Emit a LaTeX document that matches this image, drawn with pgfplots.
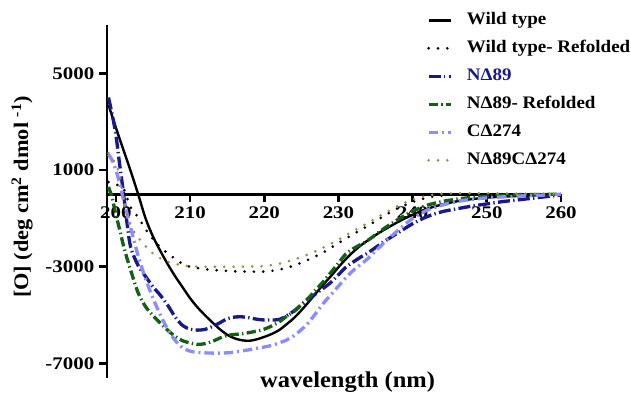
\documentclass[border=0pt]{standalone}
\usepackage{fontspec}
\setmainfont{Liberation Serif}[FakeStretch=1.08]
\newfontfamily\tickfont{Liberation Serif}[FakeStretch=1.18]
\usepackage{pgfplots}
\pgfplotsset{compat=1.18}
\definecolor{navyc}{RGB}{25,25,135}
\definecolor{greenc}{RGB}{20,95,20}
\definecolor{lbluec}{RGB}{140,140,255}
\definecolor{olivec}{RGB}{160,138,80}
\begin{document}
\begin{tikzpicture}
\begin{axis}[
  scale only axis, width=340.5pt, height=264.75pt,
  xmin=198.8, xmax=260, ymin=-7600, ymax=7000,
  axis x line=middle, axis y line=left,
  axis line style={-, line width=2pt, black},
  xtick={200,210,220,230,240,250,260},
  xticklabels={200,210,220,230,240,250,260},
  ytick={-7000,-3000,1000,5000},
  yticklabels={-7000,-3000,1000,5000},
  tick align=outside, major tick length=6pt,
  tick style={line width=2pt, black},
  tick label style={font=\tickfont\bfseries\fontsize{13.3}{14}\selectfont},
  xlabel={wavelength (nm)},
  ylabel={[O] (deg cm\textsuperscript{2} dmol \textsuperscript{-1})},
  xlabel style={at={(axis description cs:0.53,-0.0127)}, anchor=center, font=\bfseries\fontsize{17}{18}\selectfont},
  ylabel style={at={(axis description cs:-0.187,0.513)}, anchor=center, font=\bfseries\fontsize{15.5}{16}\selectfont},
  legend style={draw=none, fill=none, at={(axis description cs:0.7048,1.0378)}, anchor=north west,
    inner sep=0pt, outer sep=0pt, row sep=8pt, column sep=10.5pt,
    nodes={inner sep=0pt, text height=10pt, text depth=3pt},
    font=\bfseries\fontsize{13.2}{14}\selectfont},
  legend cell align=left,
  legend image code/.code={\draw[#1] (0pt,0pt) -- (17pt,0pt);},
]
\coordinate (sw) at (rel axis cs:0,0);
% Wild type
\addplot[black, line width=1.8pt, smooth] coordinates {
(199,3700)(200,2750)(201,1850)(202,950)(203,0)(204,-1000)(205,-1750)(206,-2350)(207,-2900)(208,-3400)(209,-3850)(210,-4300)(211,-4680)(212,-5000)(213,-5300)(214,-5580)(215,-5810)(216,-5960)(217,-6040)(218,-6060)(219,-6000)(220,-5900)(221,-5780)(222,-5620)(223,-5380)(224,-5120)(225,-4800)(226,-4450)(227,-4080)(228,-3720)(229,-3380)(230,-3020)(231,-2680)(232,-2380)(233,-2120)(234,-1900)(235,-1690)(236,-1500)(238,-1150)(240,-850)(242,-600)(244,-420)(246,-290)(248,-200)(250,-140)(252,-100)(256,-50)(260,-10)};
\addlegendentry{Wild type}
% Wild type refolded
\addplot[black, line width=2.2pt, line cap=round, dash pattern=on 0pt off 7pt, smooth] coordinates {
(199,500)(200,400)(201,250)(202,-550)(203,-950)(204,-1450)(205,-1850)(206,-2200)(207,-2450)(208,-2680)(209,-2880)(210,-3000)(212,-3100)(214,-3150)(216,-3190)(218,-3200)(220,-3200)(222,-3120)(224,-2950)(226,-2700)(228,-2400)(230,-2020)(232,-1650)(234,-1300)(236,-920)(238,-580)(240,-320)(242,-140)(244,-50)(246,-10)(250,0)(260,0)};
\addlegendentry{Wild type- Refolded}
% N89
\addplot[navyc, line width=2.5pt, dash pattern=on 9pt off 2.5pt on 1pt off 2.5pt, smooth] coordinates {
(199,4000)(199.5,3300)(200,2450)(200.5,1250)(201,100)(201.5,-1200)(202,-2200)(203,-2950)(204,-3400)(205,-3830)(206,-4180)(207,-4600)(208,-5080)(209,-5430)(210,-5580)(211,-5620)(212,-5590)(213,-5470)(214,-5320)(215,-5150)(216,-5080)(217,-5070)(218,-5110)(219,-5170)(220,-5200)(221,-5200)(222,-5180)(223,-5030)(224,-4830)(225,-4580)(226,-4360)(227,-4100)(228,-3880)(229,-3640)(230,-3330)(231,-3020)(232,-2800)(233,-2600)(234,-2420)(236,-1990)(238,-1600)(240,-1220)(242,-920)(244,-720)(246,-600)(248,-490)(250,-400)(252,-310)(254,-240)(256,-170)(258,-100)(260,-30)};
\addlegendentry{\textcolor{navyc}{NΔ89}}
% N89 refolded
\addplot[greenc, line width=2.5pt, dash pattern=on 7pt off 2.5pt on 1pt off 2.5pt, smooth] coordinates {
(199,300)(199.5,-150)(200,-850)(200.5,-1450)(201,-2100)(201.5,-2650)(202,-3150)(203,-4080)(204,-4650)(205,-5020)(206,-5330)(207,-5630)(208,-5880)(209,-6060)(210,-6150)(211,-6210)(212,-6180)(213,-6090)(214,-5950)(215,-5840)(216,-5800)(217,-5770)(218,-5720)(219,-5660)(220,-5580)(221,-5450)(222,-5280)(223,-5050)(224,-4850)(225,-4560)(226,-4280)(227,-3940)(228,-3600)(229,-3230)(230,-2850)(231,-2470)(232,-2250)(233,-2080)(234,-1900)(236,-1450)(238,-1050)(240,-700)(242,-450)(244,-300)(246,-200)(248,-130)(250,-80)(254,-20)(260,0)};
\addlegendentry{NΔ89- Refolded}
% C274
\addplot[lbluec, line width=2.5pt, dash pattern=on 7pt off 3pt on 1.5pt off 3pt, smooth] coordinates {
(199,1650)(199.5,1400)(200,1000)(200.5,450)(201,-200)(201.5,-800)(202,-1400)(203,-2550)(204,-3500)(205,-4300)(206,-5000)(207,-5600)(208,-6050)(209,-6350)(210,-6490)(211,-6540)(212,-6560)(213,-6570)(214,-6570)(215,-6560)(216,-6530)(217,-6480)(218,-6430)(219,-6370)(220,-6320)(221,-6250)(222,-6150)(223,-6030)(224,-5850)(225,-5600)(226,-5300)(227,-4900)(228,-4500)(229,-4150)(230,-3800)(231,-3450)(232,-3150)(233,-2900)(234,-2650)(236,-2050)(238,-1500)(240,-1000)(242,-650)(244,-450)(246,-300)(248,-210)(250,-150)(254,-80)(258,-30)(260,0)};
\addlegendentry{CΔ274}
% N89C274
\addplot[olivec, line width=2.2pt, line cap=round, dash pattern=on 0pt off 7pt, smooth] coordinates {
(199,1700)(199.5,1500)(200,1200)(200.5,800)(201,-150)(201.5,-850)(202,-1350)(203,-1780)(204,-2150)(205,-2450)(206,-2650)(207,-2800)(208,-2880)(209,-2940)(210,-2980)(212,-3000)(214,-3000)(216,-3000)(218,-2990)(220,-2970)(222,-2880)(224,-2700)(226,-2480)(228,-2200)(230,-1880)(232,-1520)(234,-1180)(236,-820)(238,-480)(240,-220)(242,-60)(244,20)(246,40)(250,40)(255,20)(260,0)};
\addlegendentry{NΔ89CΔ274}
\end{axis}
\pgfresetboundingbox
\path[use as bounding box] (sw) ++(-80.25pt,-12.75pt) rectangle ++(473.25pt,296.25pt);
\end{tikzpicture}
\end{document}
